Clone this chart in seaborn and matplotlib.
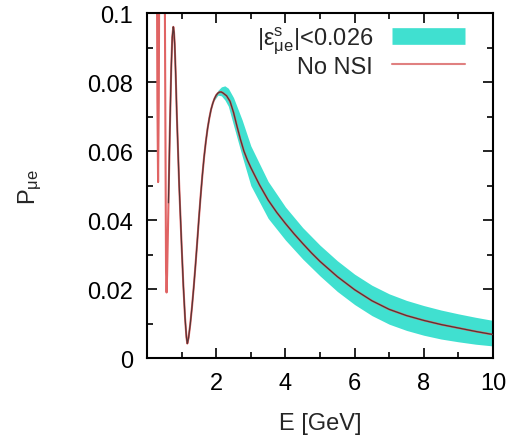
import matplotlib
matplotlib.use('Agg')
import matplotlib.pyplot as plt
import seaborn as sns
from matplotlib.lines import Line2D
from matplotlib.ticker import FixedLocator, FixedFormatter, MultipleLocator

sns.set_style('ticks')
plt.rcParams['font.family'] = ['Liberation Sans', 'DejaVu Sans']
plt.rcParams['mathtext.fontset'] = 'custom'
plt.rcParams['mathtext.rm'] = 'Liberation Sans'
plt.rcParams['mathtext.it'] = 'Liberation Sans:italic'
plt.rcParams['mathtext.default'] = 'regular'

# ---- data ----
energy_gev = [0.25, 0.27, 0.30, 0.32, 0.34, 0.37, 0.44, 0.50, 0.53, 0.55, 0.565, 0.58,
              0.62, 0.66, 0.70, 0.73, 0.76, 0.78, 0.80, 0.83, 0.86, 0.90, 0.93, 0.97,
              1.00, 1.05, 1.10, 1.14, 1.165, 1.20, 1.25, 1.30, 1.35, 1.40, 1.45, 1.50,
              1.55, 1.60, 1.65, 1.70, 1.75, 1.80, 1.85, 1.90, 1.95, 2.00, 2.05, 2.10,
              2.15, 2.20, 2.30, 2.40, 2.50, 2.60, 2.70, 2.80, 2.90, 3.00, 3.25, 3.50,
              3.75, 4.00, 4.25, 4.50, 4.75, 5.00, 5.50, 6.00, 6.50, 7.00, 7.50, 8.00,
              8.50, 9.00, 9.50, 10.00]
p_no_nsi = [0.20, 0.16, 0.075, 0.051, 0.075, 0.16, 0.22, 0.14, 0.07, 0.025, 0.019, 0.024,
            0.045, 0.066, 0.084, 0.093, 0.096, 0.0945, 0.091, 0.082, 0.071, 0.059, 0.050, 0.040,
            0.0326, 0.021, 0.0115, 0.0060, 0.0042, 0.0058, 0.0098, 0.0148, 0.0205, 0.0268, 0.0335, 0.0405,
            0.0470, 0.0530, 0.0583, 0.0627, 0.0665, 0.0695, 0.0720, 0.0738, 0.0752, 0.0762, 0.0768, 0.0771,
            0.0771, 0.0768, 0.0760, 0.0744, 0.0712, 0.0672, 0.0634, 0.0600, 0.0574, 0.0552, 0.0502, 0.0458,
            0.0422, 0.0390, 0.0360, 0.0332, 0.0305, 0.0280, 0.0236, 0.0198, 0.0166, 0.0141, 0.0123, 0.0109,
            0.0097, 0.0087, 0.0077, 0.0068]

band_energy = [1.95, 2.05, 2.15, 2.25, 2.35, 2.5, 2.75, 3.0, 3.5, 4.0, 4.5, 5.0, 5.5, 6.0,
               6.5, 7.0, 7.5, 8.0, 8.5, 9.0, 9.5, 10.0]
band_upper = [0.0758, 0.0776, 0.0786, 0.0789, 0.0782, 0.0755, 0.0690, 0.0615, 0.0512, 0.0438, 0.0378,
              0.0327, 0.0282, 0.0243, 0.0211, 0.0186, 0.0167, 0.0152, 0.0139, 0.0128, 0.0118, 0.0109]
band_lower = [0.0748, 0.0762, 0.0760, 0.0748, 0.0730, 0.0675, 0.0585, 0.0500, 0.0405, 0.0342, 0.0287,
              0.0238, 0.0193, 0.0155, 0.0123, 0.0098, 0.0080, 0.0066, 0.0055, 0.0047, 0.0040, 0.0035]

labels = [r'$|\varepsilon^{s}_{\mu e}|$<0.026', 'No NSI']
x_ticks = [2, 4, 6, 8, 10]
x_ticklabels = ['2', '4', '6', '8', '10']
y_ticks = [0, 0.02, 0.04, 0.06, 0.08, 0.1]
y_ticklabels = ['0', '0.02', '0.04', '0.06', '0.08', '0.1']

band_color = '#40e0d0'
red = '#e06464'
dark = '#553535'
fs = 17

fig, ax = plt.subplots(figsize=(5.11, 4.39), dpi=100)
fig.subplots_adjust(left=0.2877, right=0.9648, bottom=0.1822, top=0.968)

ax.fill_between(band_energy, band_lower, band_upper, color=band_color, lw=0, zorder=1)
sns.lineplot(x=energy_gev, y=p_no_nsi, ax=ax, color=red, lw=1.5,
             estimator=None, sort=False, zorder=2)
start = energy_gev.index(0.62)
sns.lineplot(x=energy_gev[start:], y=p_no_nsi[start:], ax=ax, color=dark, lw=0.9,
             estimator=None, sort=False, zorder=3)

ax.set_xlim(0, 10)
ax.set_ylim(0, 0.1)
ax.xaxis.set_major_locator(FixedLocator(x_ticks))
ax.xaxis.set_major_formatter(FixedFormatter(x_ticklabels))
ax.xaxis.set_minor_locator(MultipleLocator(1))
ax.yaxis.set_major_locator(FixedLocator(y_ticks))
ax.yaxis.set_major_formatter(FixedFormatter(y_ticklabels))
ax.yaxis.set_minor_locator(MultipleLocator(0.01))

ax.tick_params(which='both', direction='in', top=True, right=True, width=1.2,
               colors='black', labelsize=fs, pad=10)
ax.tick_params(which='major', length=7)
ax.tick_params(which='minor', length=4)
for s in ax.spines.values():
    s.set_linewidth(1.5)
    s.set_color('black')

ax.set_xlabel('E [GeV]', fontsize=fs, labelpad=13)
ax.set_ylabel(r'P$_{\mu e}$', fontsize=fs, labelpad=31)

handles = [Line2D([], [], color=band_color, lw=12, solid_capstyle='butt'),
           Line2D([], [], color='#e08080', lw=1.5)]
ax.legend(handles, labels, loc='upper right', bbox_to_anchor=(0.919, 0.967),
          frameon=False, markerfirst=False, handlelength=3.1, handletextpad=0.8,
          borderpad=0, borderaxespad=0, labelspacing=0.0, fontsize=fs)

fig.savefig('out.png', dpi=100)
